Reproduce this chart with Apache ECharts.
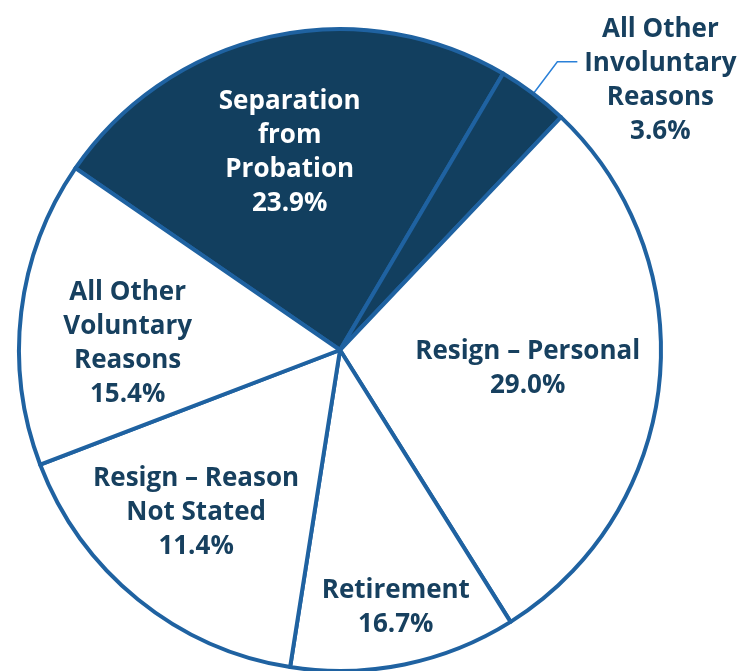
<!DOCTYPE html>
<html>
<head>
<meta charset="utf-8">
<script src="https://cdn.jsdelivr.net/npm/echarts@6/dist/echarts.min.js"></script>
<style>
  html, body { margin: 0; padding: 0; background: #fff; }
  #chart { width: 738px; height: 671px; }
</style>
</head>
<body>
<div id="chart"></div>
<script>
// slice names, clockwise from the top-left edge of the dark slice
const categories = [
  'Separation\nfrom\nProbation',
  'All Other\nInvoluntary\nReasons',
  'Resign – Personal',
  'Retirement',
  'Resign – Reason\nNot Stated',
  'All Other\nVoluntary\nReasons'
];
// slice sizes as they are drawn in the picture
const sliceValues = [23.9, 3.6, 29.0, 11.4, 16.7, 15.4];
// percentages as printed on the labels
const printedPercents = ['23.9%', '3.6%', '29.0%', '16.7%', '11.4%', '15.4%'];
const darkSlices = [true, true, false, false, false, false];

const NAVY = '#123f5f';
const EDGE = '#1f62a1';
const TEXT = '#17405f';
const FONT = 'Open Sans';
const FONT_SIZE = 26;

// label nudges from the default inside position
const labelNudge = [[-15, -38], [0, 0], [25, 2], [23, 97], [-41, 36], [-50, 13]];

const chart = echarts.init(document.getElementById('chart'));

const data = sliceValues.map((v, i) => {
  const item = {
    value: v,
    name: categories[i],
    itemStyle: { color: darkSlices[i] ? NAVY : '#ffffff' },
    label: { color: darkSlices[i] ? '#ffffff' : TEXT }
  };
  if (i === 1) {
    item.label = {
      position: 'outside',
      color: TEXT,
      padding: [38, 0, 0, 0],
      formatter: () => (categories[i] + '\n' + printedPercents[i]).split('\n').map(s => '{c|' + s + '}').join('\n'),
      rich: {
        c: {
          width: 156, align: 'center', color: TEXT,
          fontFamily: FONT, fontWeight: 'bold', fontSize: FONT_SIZE, lineHeight: 34
        }
      }
    };
    item.labelLine = {
      show: true, length: 40, length2: 20, smooth: false,
      lineStyle: { color: '#2a80d8', width: 1.5 }
    };
  }
  return item;
});

chart.setOption({
  animation: false,
  series: [{
    type: 'pie',
    center: [340, 350],
    radius: 321,
    startAngle: 145.5,
    clockwise: true,
    avoidLabelOverlap: false,
    data: data,
    itemStyle: { borderColor: EDGE, borderWidth: 4 },
    emphasis: { disabled: true },
    label: {
      show: true,
      position: 'inside',
      fontFamily: FONT,
      fontWeight: 'bold',
      fontSize: FONT_SIZE,
      lineHeight: 34,
      align: 'center',
      formatter: p => categories[p.dataIndex] + '\n' + printedPercents[p.dataIndex]
    },
    labelLine: { show: false },
    labelLayout: p => {
      if (p.dataIndex === 1) return {};
      return { dx: labelNudge[p.dataIndex][0], dy: labelNudge[p.dataIndex][1] };
    }
  }]
});
</script>
</body>
</html>
